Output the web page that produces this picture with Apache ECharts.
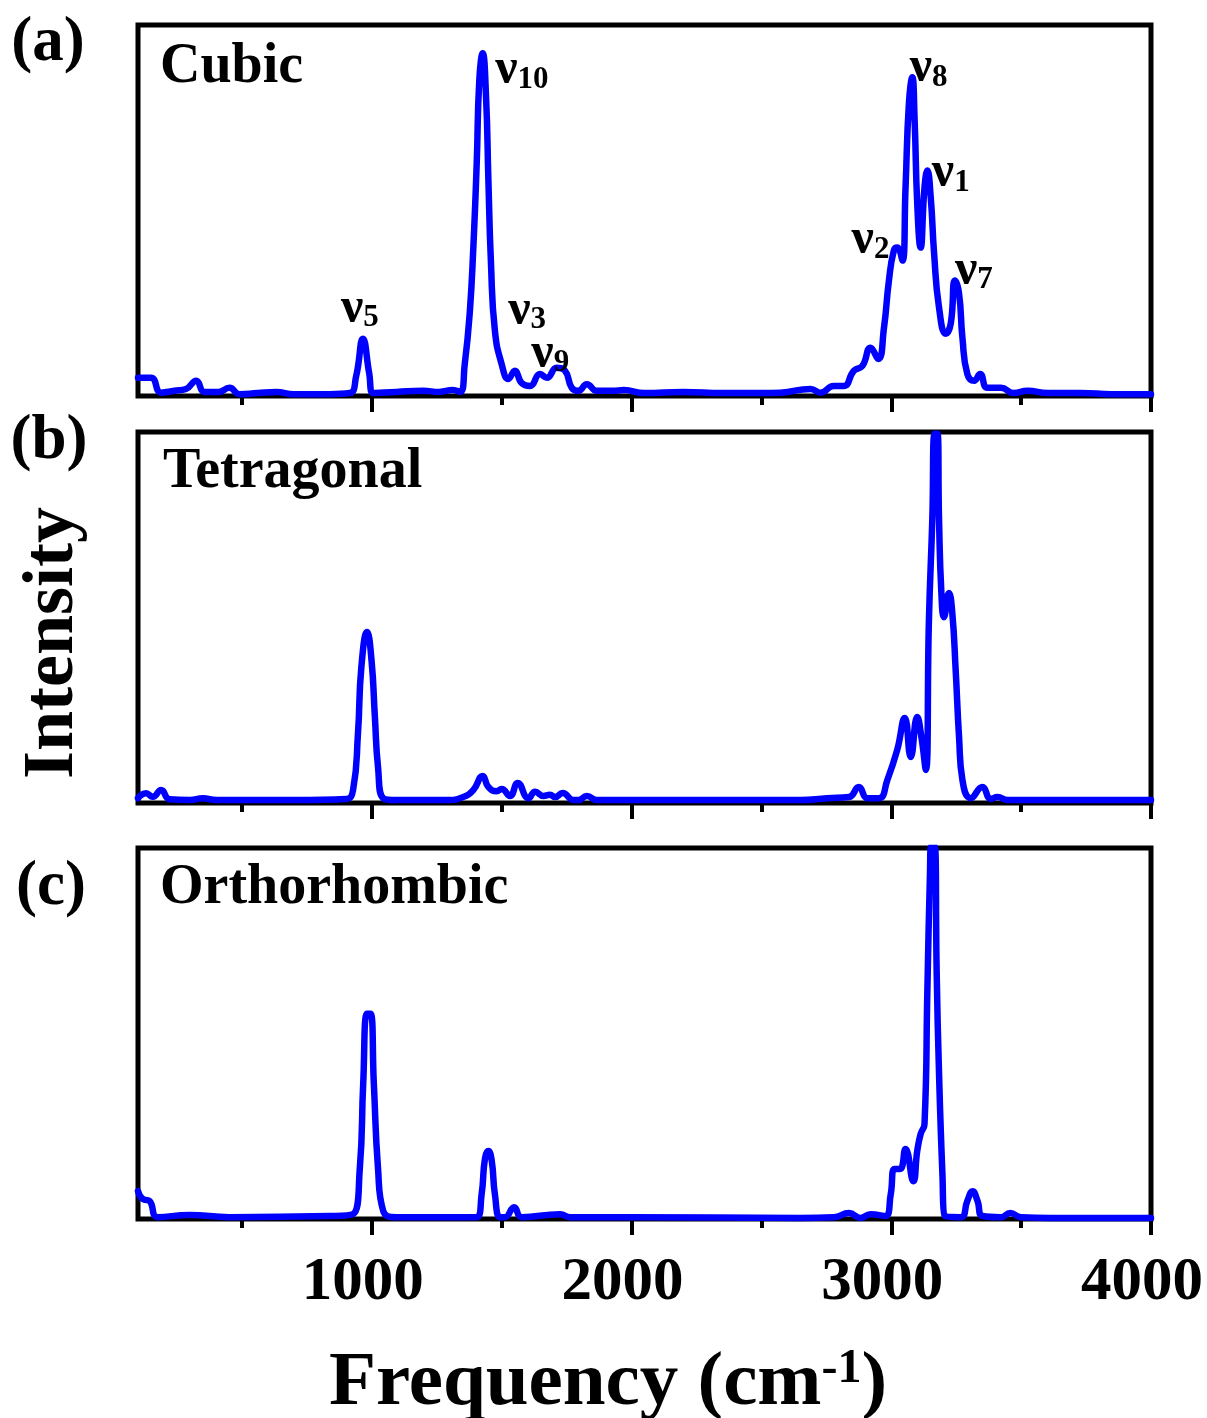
<!DOCTYPE html>
<html><head><meta charset="utf-8">
<script src="https://cdn.jsdelivr.net/npm/echarts@6/dist/echarts.min.js"></script>
<style>html,body{margin:0;padding:0;background:#fff}#c{width:1207px;height:1418px}</style>
</head><body><div id="c"></div>
<script>
// ---- data ----
const cubicFreq = [100,150,189,240,285,324,356,410,452,491,560,632,700,838,915,940,966,990,1005,1095,1197,1260,1312,1340,1358,1377,1391,1404,1414,1427,1440,1449,1459,1474,1500,1526,1551,1577,1609,1648,1674,1712,1744,1770,1796,1828,1867,1930,1970,2050,2200,2350,2500,2573,2689,2728,2779,2817,2856,2889,2920,2950,2972,2991,3010,3023,3043,3055,3068,3081,3090,3100,3113,3128,3139,3152,3165,3184,3210,3229,3245,3261,3274,3293,3319,3342,3370,3422,3472,3525,3602,3730,3850,4000];
const cubicInt  = [4.9,4.9,0.9,1.4,1.9,4.1,1.1,1.1,2.2,0.5,0.8,1.1,0.5,0.5,0.8,5.4,15.4,6.2,0.8,1.1,1.4,1.1,1.6,1.1,8.6,22.2,40,62.7,85.1,92.4,80.5,58.1,35.7,17.6,8.6,4.6,6.8,3.5,2.7,5.9,4.9,7.6,6.8,2.2,1.4,3.2,1.4,1.4,1.6,0.8,1.1,0.8,0.8,0.9,1.9,0.9,2.7,2.7,6.8,8.1,13,10,18.4,31.1,39.2,40,36.5,56.2,78.9,85.9,74.3,51.9,40,56.2,60.8,53.5,38.4,23.8,16.8,19.5,31.1,27.6,15.7,5.9,4.1,5.9,2.2,2.2,0.8,1.4,0.8,0.8,0.5,0.5];

const tetraFreq = [100,131,157,189,221,300,350,401,550,710,902,928,947,960,982,999,1012,1024,1044,1095,1288,1352,1391,1427,1449,1481,1500,1532,1562,1603,1629,1661,1686,1706,1735,1776,1796,1828,1867,1995,2300,2650,2753,2837,2875,2908,2953,2985,3023,3052,3075,3100,3116,3133,3145,3158,3167,3178,3184,3193,3203,3222,3235,3248,3261,3274,3306,3351,3383,3409,3448,3615,4000];
const tetraInt  = [1.3,2.6,1.7,3.5,1.0,0.8,1.3,0.8,0.8,0.8,1.1,3.5,18.9,36.7,46.1,38.5,23.2,9.7,1.3,0.8,0.8,1.6,3.5,7.3,4.3,3.2,3.8,1.9,5.4,1.3,3.0,1.9,2.2,1.6,2.7,0.8,0.8,1.9,0.8,0.8,0.8,0.8,1.3,1.6,4.3,1.3,1.3,6.2,14.3,22.9,12.4,23.2,17.8,8.9,49.3,76.3,99.5,99.5,76.3,56.6,50.1,56.6,51.2,35.8,17.8,6.2,1.3,4.3,1.1,1.6,0.8,0.8,0.8];

const orthoFreq = [100,118,144,176,298,452,838,928,954,967,982,995,1008,1024,1044,1095,1404,1423,1436,1449,1462,1474,1494,1513,1548,1577,1725,1764,1995,2650,2779,2837,2882,2920,2978,2998,3013,3034,3055,3085,3100,3113,3128,3139,3149,3154,3167,3175,3184,3197,3206,3268,3293,3313,3332,3351,3422,3458,3499,3615,4000];
const orthoInt  = [7.5,5.4,4.9,0.5,1.1,0.5,0.8,1.3,13.7,36.4,55.3,55.3,36.4,13.7,2.2,0.5,0.5,6.7,16.4,18.3,15.6,6.7,0.5,0.5,3.2,0.5,1.3,0.5,0.5,0.3,0.5,1.6,0.3,1.3,0.8,6.7,13.5,13.5,18.9,10.2,18.3,22.9,25.6,61.5,93,100.5,100.5,66,39.1,12.1,0.8,0.5,4.9,7.5,4.9,0.8,0.5,1.6,0.5,0.3,0.3];

const panelNames = ['Cubic', 'Tetragonal', 'Orthorhombic'];
const panelTags = ['(a)', '(b)', '(c)'];
const majorTicks = [1000, 2000, 3000, 4000];
const minorTicks = [500, 1500, 2500, 3500];

// mode labels in panel (a): subscript, frequency, intensity position
const modeSub  = ['10', '5', '3', '9', '8', '1', '2', '7'];
const modeFreq = [1578, 954, 1598, 1687, 3144, 3229, 2920, 3318];
const modeInt  = [87.8, 23.5, 23, 11.4, 88.4, 60, 41.9, 33.8];

// ---- chart ----
const FONT = '"Liberation Serif", "Times New Roman", serif';
const chart = echarts.init(document.getElementById('c'), null, {renderer: 'canvas'});

const gridTops = [25, 432, 848];
const grids = gridTops.map(t => ({
  left: 138, top: t, width: 1013, height: 371,
  containLabel: false, outerBoundsMode: 'none',
  show: true, borderColor: '#000', borderWidth: 5, backgroundColor: 'transparent'
}));

const xAxes = [];
const yAxes = [];
gridTops.forEach((t, i) => {
  xAxes.push({
    type: 'value', gridIndex: i, min: 100, max: 4000, position: 'bottom',
    axisLine: {show: false},
    splitLine: {show: false},
    axisTick: {show: true, inside: false, length: 16, customValues: majorTicks,
      lineStyle: {color: '#000', width: 4}},
    axisLabel: {show: i === 2, customValues: majorTicks, showMaxLabel: true, showMinLabel: true,
      hideOverlap: false, formatter: v => String(v),
      margin: 34, color: '#000', fontFamily: FONT, fontWeight: 'bold', fontSize: 61,
      padding: [0, 18, 0, 0]}
  });
  xAxes.push({
    type: 'value', gridIndex: i, min: 100, max: 4000, position: 'bottom',
    axisLine: {show: false},
    splitLine: {show: false},
    axisTick: {show: true, inside: false, length: 9, customValues: minorTicks,
      lineStyle: {color: '#000', width: 4}},
    axisLabel: {show: false}
  });
  yAxes.push({
    type: 'value', gridIndex: i, min: 0, max: 100, show: false
  });
});

function pairs(fx, iy) { return fx.map((f, k) => [f, iy[k]]); }

const labelRich = {
  n: {fontFamily: FONT, fontWeight: 'bold', fontSize: 50, color: '#000', verticalAlign: 'bottom'},
  s: {fontFamily: FONT, fontWeight: 'bold', fontSize: 31, color: '#000', verticalAlign: 'bottom'}
};

const seriesList = [
  pairs(cubicFreq, cubicInt),
  pairs(tetraFreq, tetraInt),
  pairs(orthoFreq, orthoInt)
].map((d, i) => {
  const s = {
    type: 'line', xAxisIndex: 2 * i, yAxisIndex: i, data: d,
    showSymbol: false, symbol: 'none', smooth: 0.5,
    clip: true,
    lineStyle: {color: '#0000FF', width: 6.5, join: 'round', cap: 'round'},
    itemStyle: {color: '#0000FF'},
    silent: true
  };
  if (i === 0) {
    s.markPoint = {
      symbol: 'circle', symbolSize: 0, silent: true,
      label: {show: true, position: 'inside', rich: labelRich},
      data: modeSub.map((sub, k) => ({
        coord: [modeFreq[k], modeInt[k]],
        label: {formatter: '{n|ν}{s|' + sub + '}'}
      }))
    };
  }
  return s;
});

const graphics = [];
const tagY = [44, 442, 888];
const tagX = [48, 49, 51];
panelTags.forEach((t, i) => {
  graphics.push({type: 'text', x: tagX[i], y: tagY[i], style: {
    text: t, font: 'bold 63px ' + FONT, fill: '#000', textAlign: 'center', textVerticalAlign: 'middle'}});
});
const nameY = [68, 473, 889];
const nameX = [160, 163, 160];
panelNames.forEach((t, i) => {
  graphics.push({type: 'text', x: nameX[i], y: nameY[i], style: {
    text: t, font: 'bold 56px ' + FONT, fill: '#000', textAlign: 'left', textVerticalAlign: 'middle'}});
});
graphics.push({type: 'text', x: 53, y: 643, rotation: Math.PI / 2, style: {
  text: 'Intensity', font: 'bold 72px ' + FONT, fill: '#000', textAlign: 'center', textVerticalAlign: 'middle'}});
graphics.push({type: 'text', x: 608, y: 1384, style: {
  text: '{m|Frequency (cm}{s|-1}{m|)}', textAlign: 'center', textVerticalAlign: 'middle',
  rich: {
    m: {fontFamily: FONT, fontWeight: 'bold', fontSize: 77, fill: '#000', verticalAlign: 'top'},
    s: {fontFamily: FONT, fontWeight: 'bold', fontSize: 48, fill: '#000', verticalAlign: 'top'}
  }}});

chart.setOption({
  backgroundColor: '#fff',
  animation: false,
  grid: grids,
  xAxis: xAxes,
  yAxis: yAxes,
  series: seriesList,
  graphic: graphics
});
</script>
</body></html>
